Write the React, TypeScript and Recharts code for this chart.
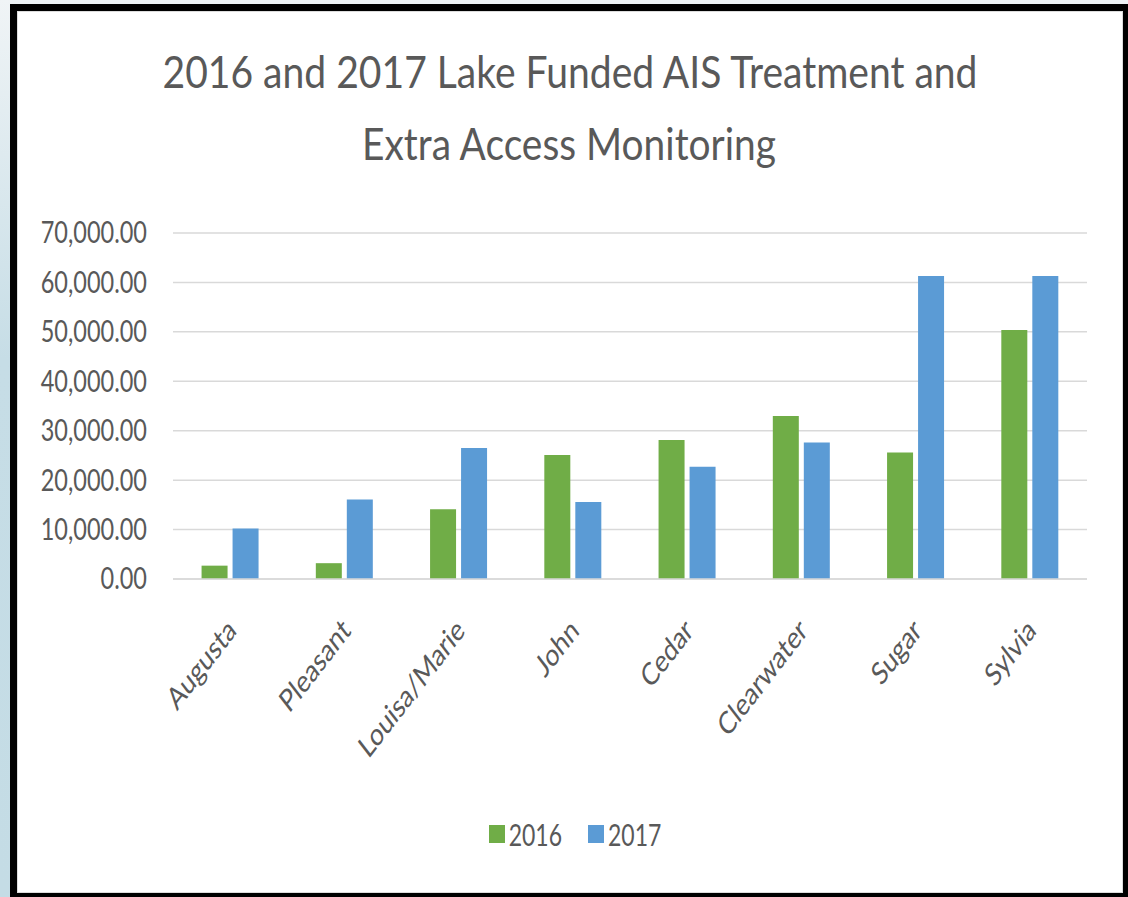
import { BarChart, Bar, XAxis, YAxis, CartesianGrid, Legend } from "recharts"

const lakes = ["Augusta", "Pleasant", "Louisa/Marie", "John", "Cedar", "Clearwater", "Sugar", "Sylvia"]
const funded2016 = [2700, 3200, 14100, 25100, 28100, 33000, 25600, 50400]
const funded2017 = [10200, 16100, 26500, 15600, 22700, 27600, 61300, 61300]
const yTicks = [0, 10000, 20000, 30000, 40000, 50000, 60000, 70000]
const titleLines = ["2016 and 2017 Lake Funded AIS Treatment and", "Extra Access Monitoring"]

const data = lakes.map((name, i) => ({ name, y2016: funded2016[i], y2017: funded2017[i] }))

// the source picture is stretched vertically, so text is scaled to match
const STRETCH = 1.3
const FONT = "Lato, 'Open Sans', sans-serif"
const TEXT = "#595959"
const GREEN = "#70ad47"
const BLUE = "#5b9bd5"

const money = new Intl.NumberFormat("en-US", { minimumFractionDigits: 2, maximumFractionDigits: 2 })

const YTick = (props: any) => {
  const { x, y, payload } = props
  return (
    <g transform={`translate(${x},${y}) scale(1,${STRETCH})`}>
      <text x={0} y={0} dy={8} textAnchor="end" fill={TEXT} fontSize={23.5} fontFamily={FONT}>
        {money.format(payload.value)}
      </text>
    </g>
  )
}

const XTick = (props: any) => {
  const { x, y, payload } = props
  return (
    <g transform={`translate(${x + 2},${y + 38}) scale(1,${STRETCH}) rotate(-45)`}>
      <text x={0} y={0} dy={8} textAnchor="end" fill={TEXT} fontSize={24} fontFamily={FONT}>
        {payload.value}
      </text>
    </g>
  )
}

const LegendContent = (props: any) => {
  const { payload } = props
  return (
    <div style={{ display: "flex", justifyContent: "center", gap: 26, fontFamily: FONT }}>
      {payload.map((entry: any) => (
        <div key={entry.value} style={{ display: "flex", alignItems: "center" }}>
          <span style={{ width: 16, height: 18, background: entry.color, display: "inline-block", marginRight: 4 }} />
          <span style={{ display: "inline-block", fontSize: 23, color: TEXT, transform: `scaleY(${STRETCH})`, lineHeight: "24px" }}>
            {entry.value}
          </span>
        </div>
      ))}
    </div>
  )
}

export default function App() {
  return (
    <div style={{ position: "absolute", left: 0, top: 0, width: 1128, height: 897, background: "#eef3f6", overflow: "hidden" }}>
      <div style={{ position: "absolute", left: 0, top: 0, width: 10, height: 897, background: "linear-gradient(#f0f4f6, #c6dde6 40%, #c4dce5)" }} />
      <div
        style={{
          position: "absolute",
          left: 10,
          top: 4,
          width: 1118,
          height: 893,
          boxSizing: "border-box",
          background: "#000",
          paddingLeft: 7,
          paddingTop: 7,
          paddingRight: 5,
          paddingBottom: 4,
        }}
      >
        <div style={{ width: "100%", height: "100%", background: "#fff", boxSizing: "border-box", border: "1px solid #dcdcdc" }} />
      </div>

      <svg width={1128} height={897} style={{ position: "absolute", left: 0, top: 0 }}>
        <g transform={`translate(570,88) scale(1,${STRETCH})`}>
          <text textAnchor="middle" fontSize={34} fontFamily={FONT} fill={TEXT} textLength={815} lengthAdjust="spacingAndGlyphs">
            {titleLines[0]}
          </text>
        </g>
        <g transform={`translate(569,160) scale(1,${STRETCH})`}>
          <text textAnchor="middle" fontSize={34} fontFamily={FONT} fill={TEXT} textLength={414} lengthAdjust="spacingAndGlyphs">
            {titleLines[1]}
          </text>
        </g>
      </svg>

      <div style={{ position: "absolute", left: 0, top: 0 }}>
        <BarChart
          width={1128}
          height={897}
          data={data}
          margin={{ top: 233, right: 41, left: 43, bottom: 0 }}
          barCategoryGap="25%"
          barGap={5}
        >
          <CartesianGrid vertical={false} stroke="#d9d9d9" strokeWidth={1.5} />
          <XAxis
            dataKey="name"
            height={288}
            interval={0}
            axisLine={{ stroke: "#d9d9d9", strokeWidth: 1.5 }}
            tickLine={false}
            tick={<XTick />}
          />
          <YAxis
            width={130}
            domain={[0, 70000]}
            ticks={yTicks}
            axisLine={false}
            tickLine={false}
            tickSize={0}
            tickMargin={26}
            tick={<YTick />}
          />
          <Legend
            content={<LegendContent />}
            wrapperStyle={{ position: "absolute", top: 822, left: 0, width: 1150, height: 30 }}
          />
          <Bar dataKey="y2016" name="2016" fill={GREEN} isAnimationActive={false} />
          <Bar dataKey="y2017" name="2017" fill={BLUE} isAnimationActive={false} />
        </BarChart>
      </div>
    </div>
  )
}
